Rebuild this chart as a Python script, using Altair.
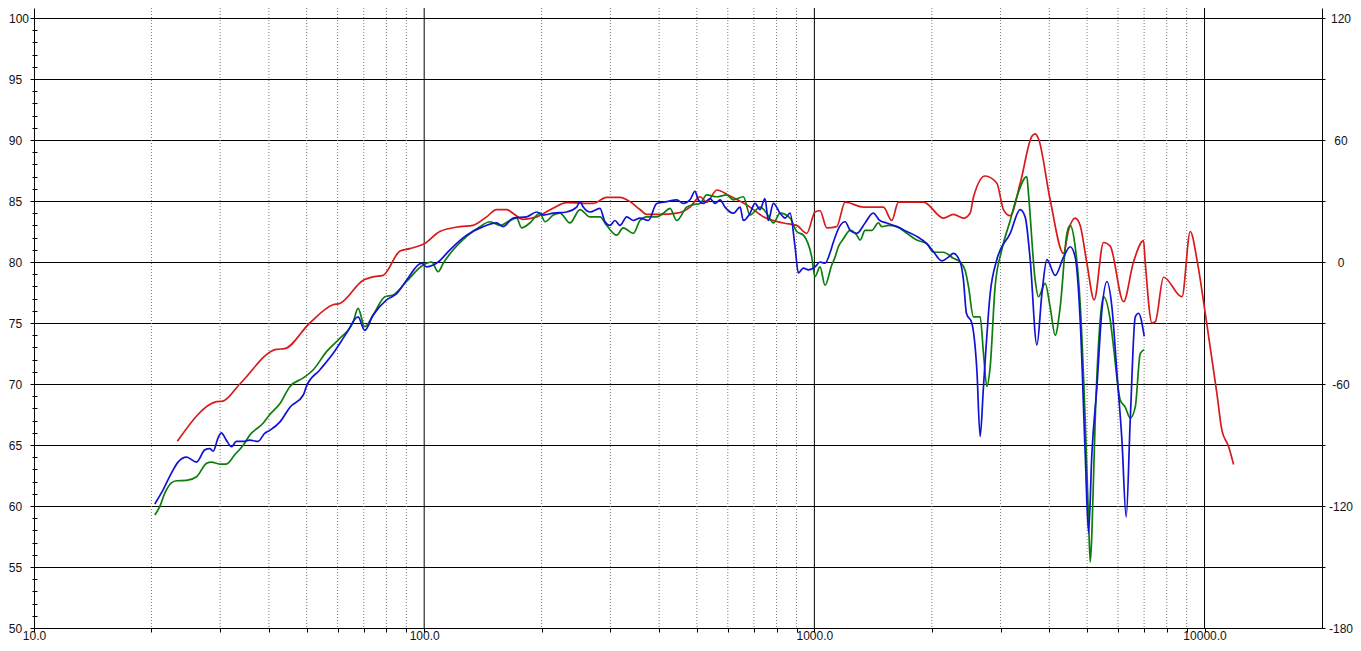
import altair as alt
import pandas as pd

# ---------------- data ----------------
red_freq = [23.3, 29.4, 30.5, 33.7, 41.8, 43.9, 50.9, 58.4, 60.8, 69.8, 74.5, 78.4, 86.7, 91.9, 100,
            109.7, 123.5, 133.3, 144.5, 153.3, 162.7, 168.8, 179.1, 194.2, 213.8, 231.8, 270.7, 293.6,
            317.6, 336.9, 357.3, 371.8, 402.1, 443.9, 480.1, 509.3, 529.9, 562.1, 607.9, 684.1, 740,
            832.7, 901.3, 956.1, 1004, 1034, 1076, 1141, 1199, 1335, 1503, 1579, 1642, 1904, 2142, 2272,
            2411, 2507, 2557, 2740, 2936, 3052, 3176, 3369, 3610, 3681, 3753, 4021, 4351, 4481, 4661,
            4800, 4994, 5214, 5508, 5731, 6199, 6575, 6976, 7046, 7331, 7476, 7852, 8752, 9191, 9562,
            10041, 10760, 11080, 11520, 11870]
red_db = [65.3, 68.55, 68.6, 70.0, 72.84, 72.9, 75.0, 76.5, 76.6, 78.5, 78.8, 78.9, 80.9, 81.1, 81.5,
          82.5, 82.9, 83.0, 83.7, 84.3, 84.3, 84.0, 83.5, 83.7, 84.4, 84.86, 84.8, 85.3,
          85.3, 84.95, 84.3, 83.9, 83.9, 84.0, 84.5, 85.35, 84.9, 85.9, 85.4, 84.5, 83.7,
          83.2, 83.0, 82.35, 84.1, 84.2, 82.8, 82.9, 84.9, 84.5, 84.5, 83.4, 84.9, 84.9, 83.6, 83.9,
          83.6, 84.0, 85.3, 87.05, 86.45, 84.3, 83.8, 86.45, 90.3, 90.5, 90.1, 85.1, 80.7, 82.6, 83.6,
          83.0, 79.9, 76.9, 81.6, 81.3, 76.75, 80.0, 81.75, 80.0, 75.0, 75.1, 78.75, 77.15, 82.5, 80.2,
          75.8, 69.2, 66.2, 64.9, 63.4]

green_freq = [20.4, 21.0, 21.6, 22.5, 23.2, 24.6, 26.1, 27.7, 28.5, 29.9, 31.1, 32.7, 34.4, 35.7, 38.7,
              40.2, 42.7, 45.3, 49.0, 51.9, 56.2, 60.8, 65.8, 67.7, 70.4, 74.0, 79.3, 83.3, 90.1, 99.4,
              104.5, 108.6, 111.9, 118.7, 128.5, 138.9, 147.4, 156.4, 165.9, 172.6, 177.7, 186.6, 198.1,
              204.0, 214.2, 222.8, 236.4, 250.8, 266.0, 282.2, 293.6, 311.4, 323.8, 343.6, 357.3, 371.8,
              394.4, 410.1, 426.6, 443.9, 470.8, 489.5, 509.3, 529.9, 562.1, 596.3, 620.0, 657.6, 684.1,
              725.7, 755.0, 785.2, 816.9, 866.5, 901.3, 937.2, 984.7, 1004, 1034, 1065, 1108, 1130, 1152,
              1187, 1235, 1285, 1310, 1349, 1404, 1459, 1489, 1548, 1627, 1726, 1830, 1942, 2019, 2142,
              2272, 2364, 2435, 2483, 2557, 2660, 2713, 2768, 2822, 2906, 3023, 3176, 3304, 3504, 3538,
              3681, 3753, 3904, 4021, 4142, 4266, 4439, 4525, 4661, 4800, 4945, 5043, 5093, 5144, 5244,
              5402, 5508, 5731, 5844, 6078, 6261, 6450, 6644, 6843, 7005]
green_db = [59.26, 59.95, 61.0, 61.9, 62.07, 62.1, 62.4, 63.5, 63.6, 63.44, 63.44, 64.2, 65.0, 65.8, 66.8,
            67.5, 68.4, 69.8, 70.5, 71.15, 72.65, 73.75, 75.1, 76.2, 74.7, 75.65, 77.15, 77.3, 78.4, 79.75,
            80.0, 79.2, 79.9, 81.0, 82.1, 82.9, 83.3, 83.0, 83.4, 83.6, 82.8, 83.2, 84.0,
            83.3, 83.85, 84.0, 83.2, 84.3, 83.7, 83.7, 83.0, 82.2, 82.8, 82.35, 83.4, 83.7,
            83.7, 84.0, 84.4, 83.4, 84.5, 84.7, 84.8, 85.5, 85.35, 85.5, 85.1, 85.35, 83.85,
            84.5, 84.0, 83.2, 84.0, 83.6, 82.5, 82.2, 80.4, 78.8, 79.6, 78.1, 79.75, 80.4, 81.25,
            81.9, 82.6, 82.2, 81.8, 82.6, 82.6, 83.2, 82.9, 83.0, 82.9, 82.35, 81.8, 81.5, 80.8, 80.8,
            80.3, 80.0, 79.3, 78.0, 75.5, 75.5, 72.5, 69.8, 71.4, 78.0, 81.0, 83.4, 85.35, 87.0, 85.6,
            78.5, 77.15, 78.25, 76.3, 74.0, 76.3, 82.35, 83.0, 81.25, 76.6, 67.0, 58.9, 55.4, 57.8, 67.0,
            75.25, 77.15, 75.25, 73.05, 68.7, 68.1, 67.2, 68.1, 72.5, 72.8]

blue_freq = [20.4, 21.4, 22.5, 23.4, 24.6, 26.1, 27.4, 28.2, 28.8, 29.6, 30.2, 31.1, 32.1, 33.0, 34.4,
             35.7, 37.5, 39.0, 40.2, 42.7, 45.3, 49.0, 49.9, 54.0, 58.4, 63.2, 67.7, 70.4, 74.0, 80.1,
             85.0, 90.1, 98.5, 101.4, 105.5, 108.6, 116.4, 128.5, 141.7, 153.3, 159.5, 169.1, 183.0,
             194.2, 201.9, 214.2, 231.8, 245.9, 250.8, 255.7, 266.0, 282.2, 290.6, 299.4, 308.3, 317.6,
             330.4, 343.6, 357.3, 375.3, 394.4, 418.3, 443.9, 461.4, 480.1, 494.5, 504.1, 519.2, 540.2,
             556.6, 573.3, 590.2, 620.0, 645.1, 657.6, 684.1, 704.7, 725.7, 747.2, 762.0, 785.2, 816.9,
             841.2, 866.5, 892.2, 910.0, 937.2, 965.2, 1004, 1034, 1065, 1098, 1118, 1160, 1199, 1235,
             1285, 1349, 1415, 1471, 1533, 1627, 1726, 1830, 1942, 2019, 2122, 2206, 2272, 2364, 2411,
             2453, 2532, 2609, 2660, 2713, 2822, 2936, 3176, 3369, 3469, 3574, 3718, 3830, 3944, 4142,
             4351, 4525, 4661, 4800, 4945, 5043, 5144, 5299, 5458, 5621, 5789, 5963, 6141, 6298, 6450,
             6644, 6774, 7005]
blue_db = [60.16, 61.3, 62.7, 63.6, 64.0, 63.6, 64.6, 64.7, 64.5, 65.55, 66.0, 65.4, 64.86, 65.3, 65.3,
           65.4, 65.3, 65.95, 66.2, 66.9, 68.1, 69.1, 69.8, 71.15, 72.5, 74.15, 75.5, 74.4, 75.65, 76.9,
           77.4, 78.5, 79.9, 79.6, 79.75, 80.0, 81.0, 82.2, 82.9, 83.2, 82.9, 83.6, 83.7,
           84.1, 83.85, 84.0, 84.1, 84.5, 84.95, 84.5, 84.1, 84.4, 83.3, 83.0, 83.4, 83.0,
           83.7, 83.4, 83.6, 83.4, 84.8, 84.95, 85.1, 84.8, 85.1, 85.8, 85.1, 84.8, 85.2,
           84.8, 85.1, 84.5, 84.0, 84.5, 83.4, 84.0, 84.8, 84.3, 85.2, 83.4, 84.8, 84.0,
           83.6, 84.0, 81.25, 79.1, 79.5, 79.35, 79.6, 80.0, 79.9, 80.8, 81.6, 82.9, 83.3, 82.6,
           82.35, 83.2, 84.0, 83.4, 83.2, 82.9, 82.5, 82.1, 81.5, 80.85, 80.1, 80.4, 80.7, 80.0, 78.5,
           75.8, 75.0, 71.15, 65.7, 69.8, 77.4, 80.2, 82.35, 84.3, 83.7, 80.2, 73.2, 77.4, 80.2, 78.9,
           80.4, 81.25, 80.4, 75.25, 64.3, 57.8, 64.3, 69.8, 76.1, 78.4, 76.3, 70.9, 65.4, 59.1, 67.05,
           75.5, 75.8, 73.9]

series_names = ["red", "green", "blue"]
series_colors = ["#d81a1a", "#0d7d0d", "#1212d6"]

x_ticks = [10, 20, 30, 40, 50, 60, 70, 80, 90,
           100, 200, 300, 400, 500, 600, 700, 800, 900,
           1000, 2000, 3000, 4000, 5000, 6000, 7000, 8000, 9000, 10000]
minor_freq = [20, 30, 40, 50, 60, 70, 80, 90,
              200, 300, 400, 500, 600, 700, 800, 900,
              2000, 3000, 4000, 5000, 6000, 7000, 8000, 9000]
decade_freq = [100, 1000, 10000]
left_major = [50, 55, 60, 65, 70, 75, 80, 85, 90, 95, 100]
left_minor = [v for v in range(51, 101) if v % 5 != 0]
right_ticks = [-180, -150, -120, -90, -60, -30, 0, 30, 60, 90, 120]

X_DOMAIN = [10, 20000]
Y_DOMAIN = [50, 100.82]
PHASE_DOMAIN = [-180, 124.92]

FONT = "Liberation Sans"

rows = []
for name, fr, db in [("red", red_freq, red_db), ("green", green_freq, green_db), ("blue", blue_freq, blue_db)]:
    for f, d in zip(fr, db):
        rows.append({"freq": f, "db": d, "series": name})
df = pd.DataFrame(rows)

xscale = alt.Scale(type="log", domain=X_DOMAIN, nice=False)
xaxis = alt.Axis(
    values=x_ticks,
    labelExpr="(datum.value == 10 || datum.value == 100 || datum.value == 1000 || datum.value == 10000) ? format(datum.value, '.1f') : ''",
    tickSize=4, tickColor="black", domainColor="black", grid=False, title=None,
    labelFlush=False, labelOverlap=False, labelFont=FONT, labelFontSize=12,
    labelColor="#111111", labelBaseline="alphabetic", labelPadding=7.5,
)

grid_minor = alt.Chart(pd.DataFrame({"f": minor_freq})).mark_rule(
    color="#7a7a7a", strokeWidth=1, strokeDash=[1, 2]
).encode(x=alt.X("f:Q", scale=xscale, axis=xaxis))

grid_major = alt.Chart(pd.DataFrame({"f": decade_freq})).mark_rule(
    color="black", strokeWidth=1
).encode(x=alt.X("f:Q", scale=xscale, axis=xaxis))

lines = alt.Chart(df).mark_line(interpolate="monotone", strokeWidth=1.7).encode(
    x=alt.X("freq:Q", scale=xscale, axis=xaxis),
    y=alt.Y("db:Q", scale=alt.Scale(domain=Y_DOMAIN, nice=False, zero=False),
            axis=alt.Axis(orient="left", values=left_major, tickSize=4, tickColor="black",
                          domainColor="black", grid=True, gridColor="black", gridOpacity=1,
                          gridWidth=1, title=None, labelAlign="center", labelBaseline="middle",
                          labelPadding={"condition": {"test": "datum.value == 100", "value": 11.5},
                                        "value": 15},
                          labelFont=FONT, labelFontSize=12,
                          labelColor="#111111")),
    color=alt.Color("series:N", scale=alt.Scale(domain=series_names, range=series_colors), legend=None),
    detail="series:N",
)

minor_ticks = alt.Chart(pd.DataFrame({"v": [60, 70]})).mark_point(opacity=0).encode(
    y=alt.Y("v:Q", scale=alt.Scale(domain=Y_DOMAIN, nice=False, zero=False),
            axis=alt.Axis(orient="left", values=left_minor, tickSize=5, offset=-3, labels=False,
                          domain=False, grid=False, title=None, tickColor="black"))
)

right_axis = alt.Chart(pd.DataFrame({"p": [0, 60]})).mark_point(opacity=0).encode(
    y=alt.Y("p:Q", scale=alt.Scale(domain=PHASE_DOMAIN, nice=False, zero=False),
            axis=alt.Axis(orient="right", values=right_ticks,
                          labelExpr="datum.value % 60 == 0 ? toString(datum.value) : ''",
                          tickSize=3, tickColor="black", domainColor="black", grid=False,
                          title=None, labelAlign="center", labelBaseline="middle",
                          labelPadding=15.5, labelFont=FONT, labelFontSize=12,
                          labelColor="#111111", labelOverlap=False))
)

chart = alt.layer(grid_minor, grid_major, lines, minor_ticks, right_axis).resolve_scale(
    y="independent"
).properties(
    width=1288, height=620,
    autosize=alt.AutoSizeParams(type="none"),
    padding={"left": 26, "top": 0, "right": 31, "bottom": 15},
    background="white",
).configure_view(stroke=None)

chart.save("out.html", embed_options={"renderer": "svg", "actions": False})
